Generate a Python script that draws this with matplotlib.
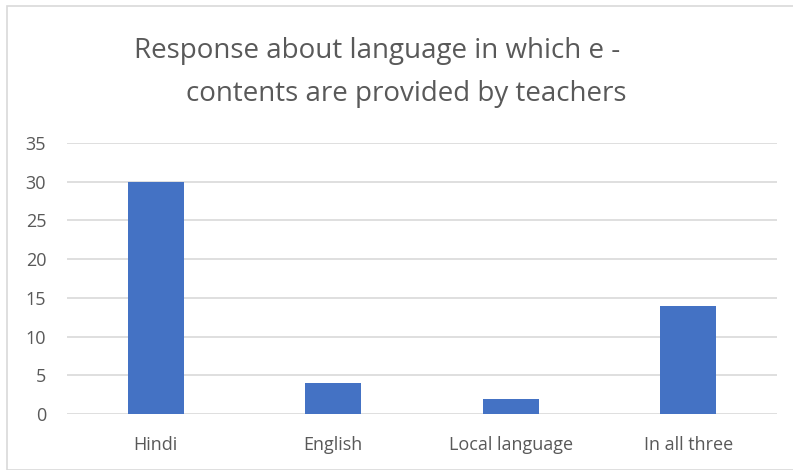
import matplotlib
matplotlib.use("Agg")
import matplotlib.pyplot as plt
from matplotlib.patches import Rectangle

categories = ["Hindi", "English", "Local language", "In all three"]
counts = [30, 4, 2, 14]
yticks = [0, 5, 10, 15, 20, 25, 30, 35]
title_lines = ["Response about language in which e -", "contents are provided by teachers"]

TEXT = "#595959"
GRID = "#D9D9D9"
BAR = "#4472C4"

plt.rcParams["font.family"] = ["Open Sans", "DejaVu Sans"]

fig = plt.figure(figsize=(7.93, 4.70), dpi=100)
# outer chart border like Excel's chart area
fig.patches.append(Rectangle((7 / 793, 0), 1, 1 - 6 / 470, transform=fig.transFigure,
                             fill=False, edgecolor=GRID, lw=1.2))

ax = fig.add_axes([67 / 793, 56 / 470, 710 / 793, 271 / 470])
x = range(len(categories))
ax.bar(x, counts, width=0.315, color=BAR, zorder=3)

ax.set_xlim(-0.5, len(categories) - 0.5)
ax.set_ylim(0, 35)
ax.set_yticks(yticks)
ax.set_xticks(list(x))
ax.set_xticklabels(categories)
ax.yaxis.grid(True, color=GRID, lw=1.2, zorder=0)
for s in ax.spines.values():
    s.set_visible(False)
ax.tick_params(length=0, labelsize=13, labelcolor=TEXT)
ax.tick_params(axis="y", pad=15)
ax.tick_params(axis="x", pad=16)

# Excel title: two lines, baselines
title_x = [377, 406]
title_base = [58, 101]
for line, tx, ty in zip(title_lines, title_x, title_base):
    fig.text(tx / 793, 1 - ty / 470, line, ha="center", va="baseline",
             fontsize=20, color=TEXT)

fig.savefig("out.png", dpi=100)
